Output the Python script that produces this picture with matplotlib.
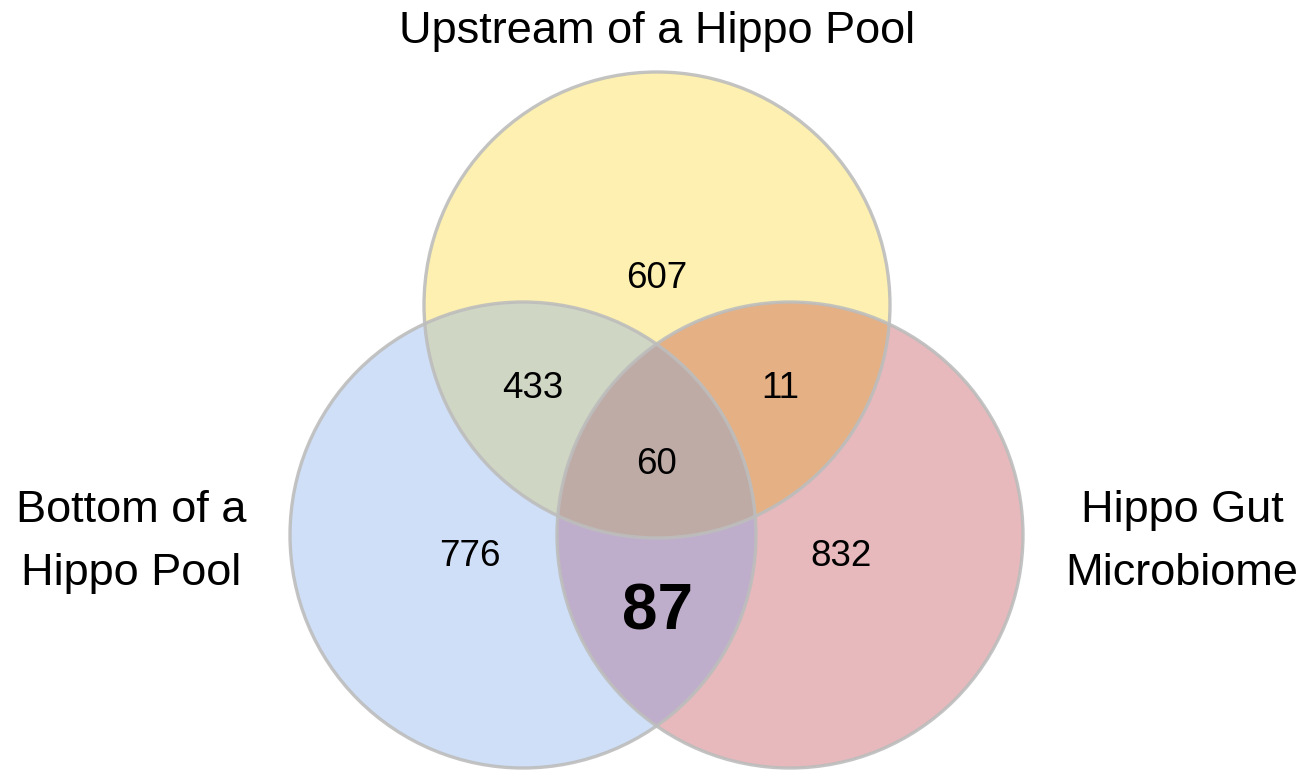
import numpy as np
import matplotlib
matplotlib.use("Agg")
import matplotlib.pyplot as plt
from matplotlib.patches import Circle

plt.rcParams['font.family'] = ['Liberation Sans', 'DejaVu Sans']

# set names and region counts
set_labels = ["Upstream of a Hippo Pool", "Bottom of a\nHippo Pool", "Hippo Gut\nMicrobiome"]
region_keys = ["U", "B", "G", "UB", "UG", "BG", "UBG"]
region_counts = [607, 776, 832, 433, 11, 87, 60]
highlight = "BG"

# region fill colours
region_colors = {
    "U": "#fdf0b0", "B": "#cfdff7", "G": "#e7b9bc",
    "UB": "#cfd6c4", "UG": "#e5b084", "BG": "#bfaecb", "UBG": "#bfaba6",
}

W, H = 1304, 771
fig = plt.figure(figsize=(W / 100, H / 100), dpi=100)
ax = fig.add_axes([0, 0, 1, 1])
ax.set_xlim(0, W)
ax.set_ylim(H, 0)
ax.axis('off')

# circle geometry in pixel coords
centers = {"U": (657, 305), "B": (523, 535), "G": (790, 535)}
r = 233

xx, yy = np.meshgrid(np.arange(W) + 0.5, np.arange(H) + 0.5)
inside = {k: (xx - cx) ** 2 + (yy - cy) ** 2 <= r ** 2 for k, (cx, cy) in centers.items()}

img = np.ones((H, W, 3))
for key in region_keys:
    mask = np.ones((H, W), bool)
    for k in "UBG":
        mask &= inside[k] if k in key else ~inside[k]
    img[mask] = matplotlib.colors.to_rgb(region_colors[key])
ax.imshow(img, extent=(0, W, H, 0), interpolation='bilinear', zorder=0)

for k, (cx, cy) in centers.items():
    ax.add_patch(Circle((cx, cy), r, fill=False, edgecolor='#bdbdbd', alpha=0.9,
                        linewidth=2.4, zorder=2))

# label positions
count_pos = {"U": (657, 278), "B": (470, 556), "G": (841, 556),
             "UB": (533, 388), "UG": (780, 388), "BG": (657, 612), "UBG": (657, 465)}
for key, n in zip(region_keys, region_counts):
    x, y = count_pos[key]
    if key == highlight:
        ax.text(x, y, str(n), fontsize=46, fontweight='bold', ha='center', va='center', zorder=3)
    else:
        ax.text(x, y, str(n), fontsize=26.5, ha='center', va='center', zorder=3)

ax.text(657, 31, set_labels[0], fontsize=32.5, ha='center', va='center')
ax.text(131, 542, set_labels[1], fontsize=32.5, ha='center', va='center', linespacing=1.68)
ax.text(1182, 542, set_labels[2], fontsize=32.5, ha='center', va='center', linespacing=1.68)

fig.savefig("out.png", dpi=100, facecolor='white')
